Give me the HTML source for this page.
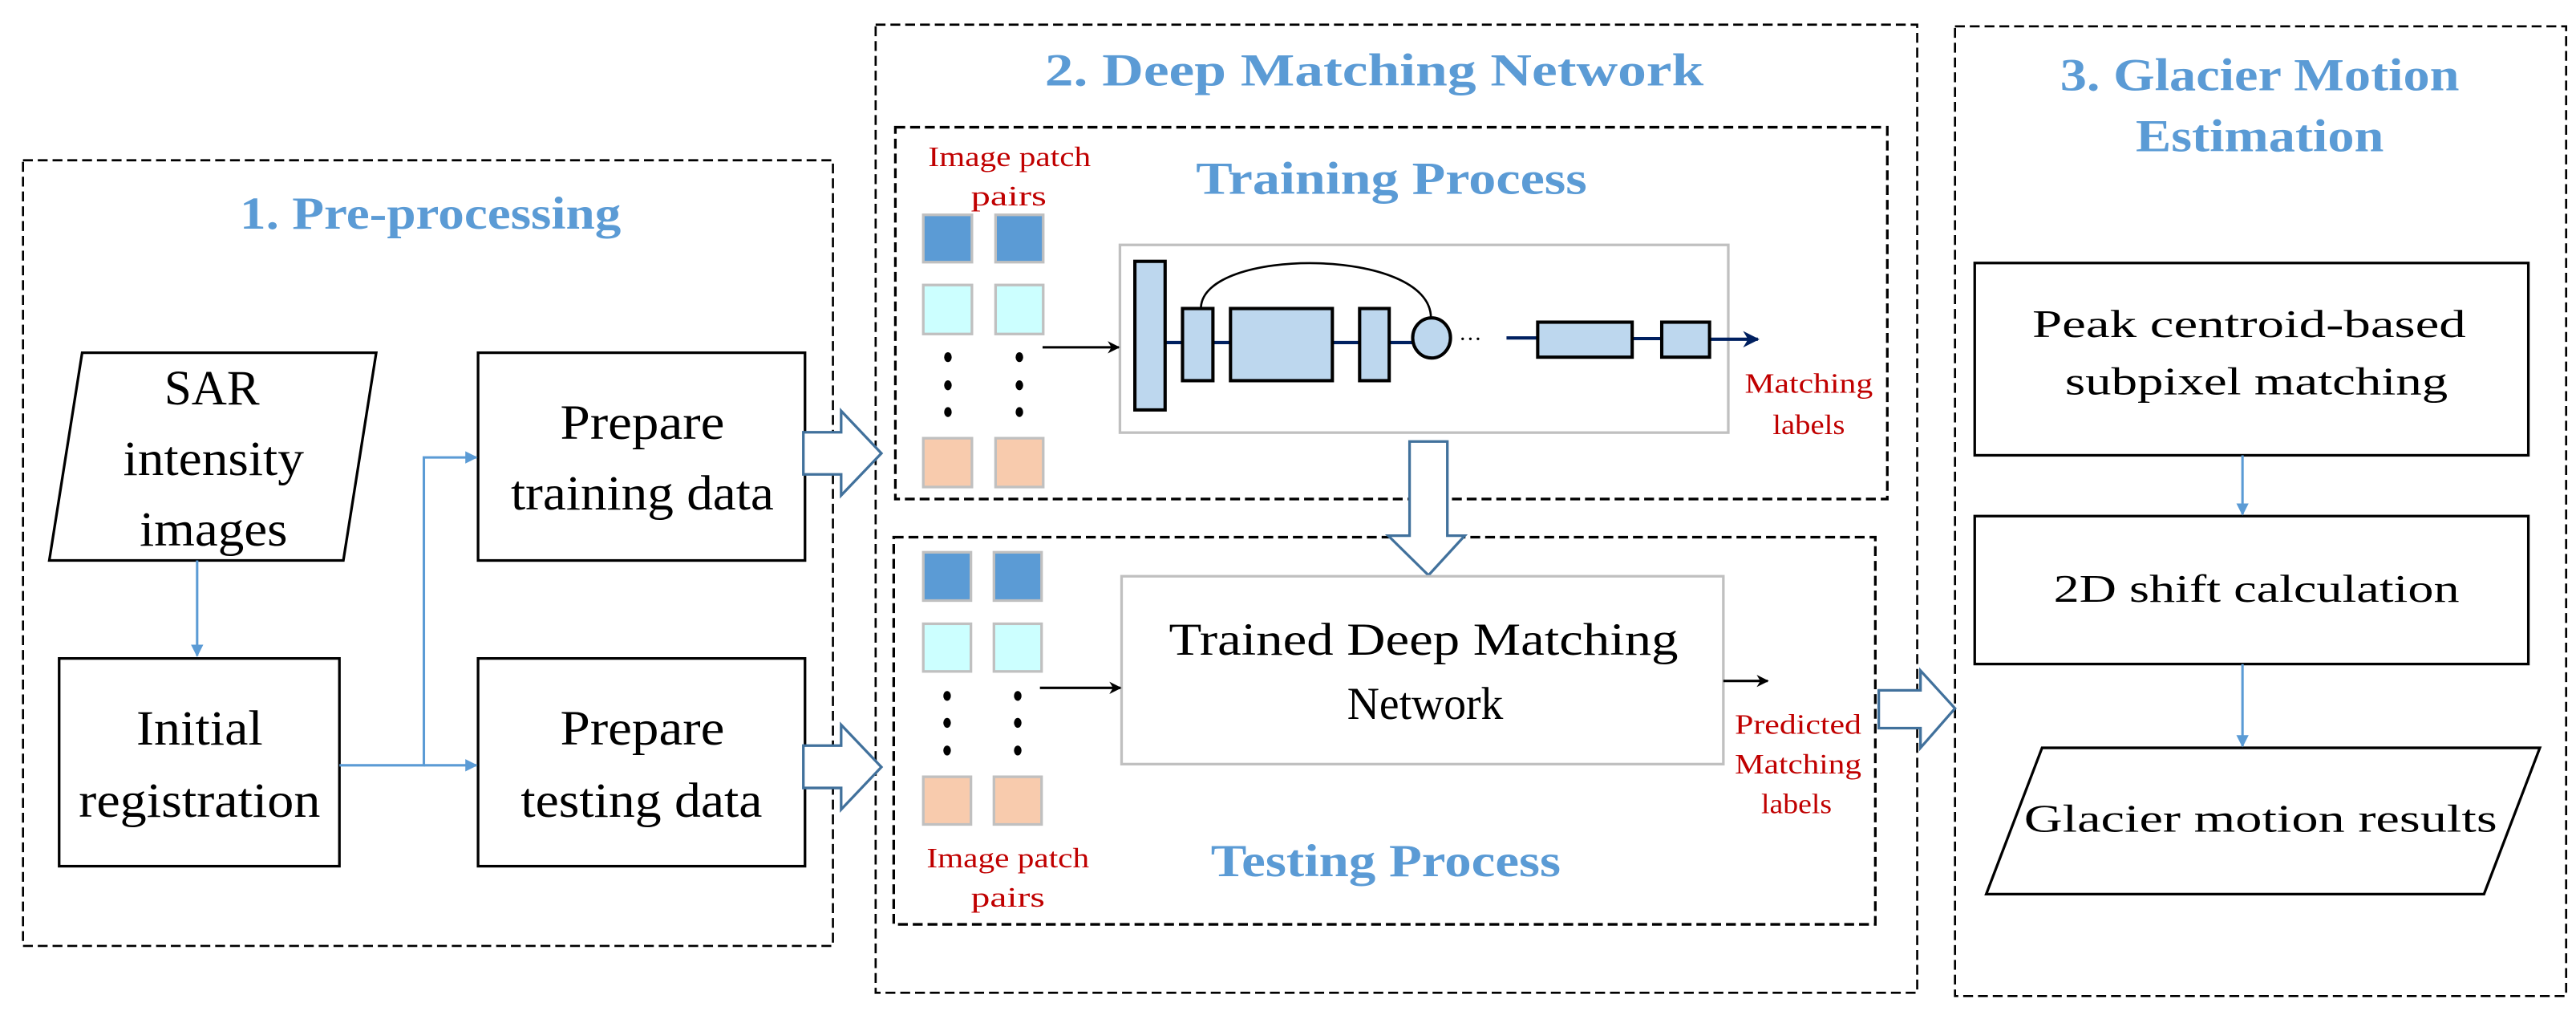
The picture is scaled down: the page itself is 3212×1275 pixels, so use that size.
<!DOCTYPE html>
<html><head><meta charset="utf-8"><style>html,body{margin:0;padding:0;background:#fff}svg{display:block}</style></head>
<body>
<svg xmlns="http://www.w3.org/2000/svg" width="3212" height="1275" viewBox="0 0 1568 622.4" font-family="Liberation Serif, Times New Roman, DejaVu Serif, serif">
<defs>
<marker id="ab" viewBox="0 0 10 10" refX="9" refY="5" markerWidth="5" markerHeight="5" orient="auto"><path d="M0,0 L10,5 L0,10 z" fill="#5B9BD5"/></marker>
<marker id="ak" viewBox="0 0 10 10" refX="9" refY="5" markerWidth="5" markerHeight="5" orient="auto"><path d="M0,0 L10,5 L0,10 L3,5 z" fill="#000"/></marker>
<marker id="an" viewBox="0 0 10 10" refX="9" refY="5" markerWidth="5" markerHeight="5" orient="auto"><path d="M0,0 L10,5 L0,10 L3,5 z" fill="#002060"/></marker>
</defs>
<g fill="none" stroke="#000" stroke-width="1.3" stroke-dasharray="6,3">
<rect x="14" y="97.5" width="493" height="478"/>
<rect x="533" y="15" width="634" height="589"/>
<rect x="1190" y="16" width="372" height="590"/>
<rect x="545" y="77.4" width="603.8" height="226.2" stroke-width="1.6"/>
<rect x="544" y="326.8" width="597.5" height="235.6" stroke-width="1.6"/>
</g>
<g fill="#5B9BD5" font-weight="bold" font-size="28">
<text x="146" y="139" textLength="232" lengthAdjust="spacingAndGlyphs">1. Pre-processing</text>
<text x="636" y="52" textLength="401" lengthAdjust="spacingAndGlyphs">2. Deep Matching Network</text>
<text x="1254" y="55" textLength="243" lengthAdjust="spacingAndGlyphs">3. Glacier Motion</text>
<text x="1300" y="92" textLength="151" lengthAdjust="spacingAndGlyphs">Estimation</text>
<text x="728" y="118" textLength="238" lengthAdjust="spacingAndGlyphs">Training Process</text>
<text x="737" y="533" textLength="213" lengthAdjust="spacingAndGlyphs">Testing Process</text>
</g>
<g fill="#fff" stroke="#000" stroke-width="1.6">
<polygon points="50,214.6 229,214.6 209,341 30,341"/>
<rect x="36" y="400.6" width="170.6" height="126.4"/>
<rect x="291" y="214.6" width="199" height="126.4"/>
<rect x="291" y="400.6" width="199" height="126.4"/>
<rect x="1202" y="160" width="337" height="117"/>
<rect x="1202" y="314" width="337" height="90"/>
<polygon points="1243,455 1546,455 1512,544 1209,544"/>
</g>
<g font-size="30" fill="#000">
<text x="100" y="246" textLength="58" lengthAdjust="spacingAndGlyphs">SAR</text>
<text x="75" y="289" textLength="110" lengthAdjust="spacingAndGlyphs">intensity</text>
<text x="85" y="332" textLength="90" lengthAdjust="spacingAndGlyphs">images</text>
<text x="83" y="453" textLength="77" lengthAdjust="spacingAndGlyphs">Initial</text>
<text x="48" y="497" textLength="147" lengthAdjust="spacingAndGlyphs">registration</text>
<text x="341" y="267" textLength="100" lengthAdjust="spacingAndGlyphs">Prepare</text>
<text x="311" y="310" textLength="160" lengthAdjust="spacingAndGlyphs">training data</text>
<text x="341" y="453" textLength="100" lengthAdjust="spacingAndGlyphs">Prepare</text>
<text x="317" y="497" textLength="147" lengthAdjust="spacingAndGlyphs">testing data</text>
</g>
<g font-size="24" fill="#000">
<text x="1237" y="205" textLength="264" lengthAdjust="spacingAndGlyphs">Peak centroid-based</text>
<text x="1257" y="240" textLength="233" lengthAdjust="spacingAndGlyphs">subpixel matching</text>
<text x="1250" y="366" textLength="247" lengthAdjust="spacingAndGlyphs">2D shift calculation</text>
<text x="1232" y="506" textLength="288" lengthAdjust="spacingAndGlyphs">Glacier motion results</text>
</g>
<g stroke="#5B9BD5" stroke-width="1.5" fill="none">
<line x1="120" y1="341" x2="120" y2="399" marker-end="url(#ab)"/>
<polyline points="206.6,465.6 258,465.6 258,278.3 290,278.3" marker-end="url(#ab)"/>
<line x1="258" y1="465.6" x2="290" y2="465.6" marker-end="url(#ab)"/>
<line x1="1365" y1="277" x2="1365" y2="313" marker-end="url(#ab)"/>
<line x1="1365" y1="404" x2="1365" y2="454" marker-end="url(#ab)"/>
</g>
<g fill="#fff" stroke="#41719C" stroke-width="1.6">
<polygon points="489,263 512,263 512,250 536.5,275.8 512,301.4 512,288.6 489,288.6"/>
<polygon points="489,453.6 512,453.6 512,441 536.5,466.7 512,492.5 512,479.4 489,479.4"/>
<polygon points="1143.6,420 1169,420 1169,408 1190,431 1169,455 1169,443 1143.6,443"/>
<polygon points="858,268.6 881,268.6 881,325.9 891.6,325.9 869.5,350 845,325.9 858,325.9"/>
</g>
<g stroke="#c0c0c0" stroke-width="1.6">
<rect x="562" y="130.7" width="29.6" height="28.8" fill="#5B9BD5"/>
<rect x="606" y="130.7" width="29" height="28.8" fill="#5B9BD5"/>
<rect x="562" y="173.4" width="29.6" height="29.8" fill="#CCFFFF"/>
<rect x="606" y="173.4" width="29" height="29.8" fill="#CCFFFF"/>
<rect x="562" y="266.6" width="29.6" height="29.7" fill="#F8CBAD"/>
<rect x="606" y="266.6" width="29" height="29.7" fill="#F8CBAD"/>
<rect x="562" y="336" width="29" height="29.4" fill="#5B9BD5"/>
<rect x="605" y="336" width="29" height="29.4" fill="#5B9BD5"/>
<rect x="562" y="379.5" width="29" height="29" fill="#CCFFFF"/>
<rect x="605" y="379.5" width="29" height="29" fill="#CCFFFF"/>
<rect x="562" y="472.6" width="29" height="29" fill="#F8CBAD"/>
<rect x="605" y="472.6" width="29" height="29" fill="#F8CBAD"/>
<rect x="681.7" y="149" width="370.3" height="114.2" fill="#fff"/>
<rect x="682.7" y="350.6" width="366.3" height="114.3" fill="#fff"/>
</g>
<g fill="#000">
<ellipse cx="577" cy="217.3" rx="2.3" ry="3"/><ellipse cx="620.5" cy="217.3" rx="2.3" ry="3"/>
<ellipse cx="577" cy="234.4" rx="2.3" ry="3"/><ellipse cx="620.5" cy="234.4" rx="2.3" ry="3"/>
<ellipse cx="577" cy="250.7" rx="2.3" ry="3"/><ellipse cx="620.5" cy="250.7" rx="2.3" ry="3"/>
<ellipse cx="576.5" cy="423.4" rx="2.3" ry="3"/><ellipse cx="619.5" cy="423.4" rx="2.3" ry="3"/>
<ellipse cx="576.5" cy="439.8" rx="2.3" ry="3"/><ellipse cx="619.5" cy="439.8" rx="2.3" ry="3"/>
<ellipse cx="576.5" cy="456.6" rx="2.3" ry="3"/><ellipse cx="619.5" cy="456.6" rx="2.3" ry="3"/>
</g>
<g stroke="#000" stroke-width="1.5">
<line x1="634.6" y1="211.3" x2="681" y2="211.3" marker-end="url(#ak)"/>
<line x1="633" y1="418.5" x2="682" y2="418.5" marker-end="url(#ak)"/>
<line x1="1049" y1="414.3" x2="1076" y2="414.3" marker-end="url(#ak)"/>
</g>
<g stroke="#002060" stroke-width="2">
<line x1="709" y1="208.4" x2="749" y2="208.4"/>
<line x1="811" y1="208.4" x2="860" y2="208.4"/>
<line x1="917" y1="205.6" x2="936" y2="205.6"/>
<line x1="993" y1="206" x2="1012" y2="206"/>
<line x1="1040" y1="206.4" x2="1070" y2="206.4" marker-end="url(#an)"/>
</g>
<g fill="#BDD7EE" stroke="#000" stroke-width="2">
<rect x="690.8" y="159" width="18.4" height="90.4"/>
<rect x="719.8" y="187.7" width="18.5" height="43.9"/>
<rect x="749" y="187.7" width="62" height="43.9"/>
<rect x="827.6" y="187.7" width="18" height="43.9"/>
<ellipse cx="871.4" cy="205.6" rx="11.5" ry="12.2"/>
<rect x="936" y="196" width="57.5" height="21.3"/>
<rect x="1011.5" y="196" width="29.1" height="21.3"/>
</g>
<path d="M731,187.7 C731,150 871,150 871,193.4" fill="none" stroke="#000" stroke-width="1.3"/>
<text x="888" y="211" font-size="14" fill="#000">···</text>
<g fill="#C00000" font-size="17">
<text x="565" y="101" textLength="99" lengthAdjust="spacingAndGlyphs">Image patch</text>
<text x="591" y="125" textLength="46" lengthAdjust="spacingAndGlyphs">pairs</text>
<text x="1062" y="239" textLength="78" lengthAdjust="spacingAndGlyphs">Matching</text>
<text x="1079" y="264" textLength="44" lengthAdjust="spacingAndGlyphs">labels</text>
<text x="1056" y="446.5" textLength="77" lengthAdjust="spacingAndGlyphs">Predicted</text>
<text x="1056" y="470.6" textLength="77" lengthAdjust="spacingAndGlyphs">Matching</text>
<text x="1072" y="494.8" textLength="43" lengthAdjust="spacingAndGlyphs">labels</text>
<text x="564" y="527.6" textLength="99" lengthAdjust="spacingAndGlyphs">Image patch</text>
<text x="591" y="551.7" textLength="45" lengthAdjust="spacingAndGlyphs">pairs</text>
</g>
<g font-size="28" fill="#000">
<text x="711.5" y="398.3" textLength="310" lengthAdjust="spacingAndGlyphs">Trained Deep Matching</text>
<text x="820" y="437.3" textLength="95" lengthAdjust="spacingAndGlyphs">Network</text>
</g>
</svg>
</body></html>
